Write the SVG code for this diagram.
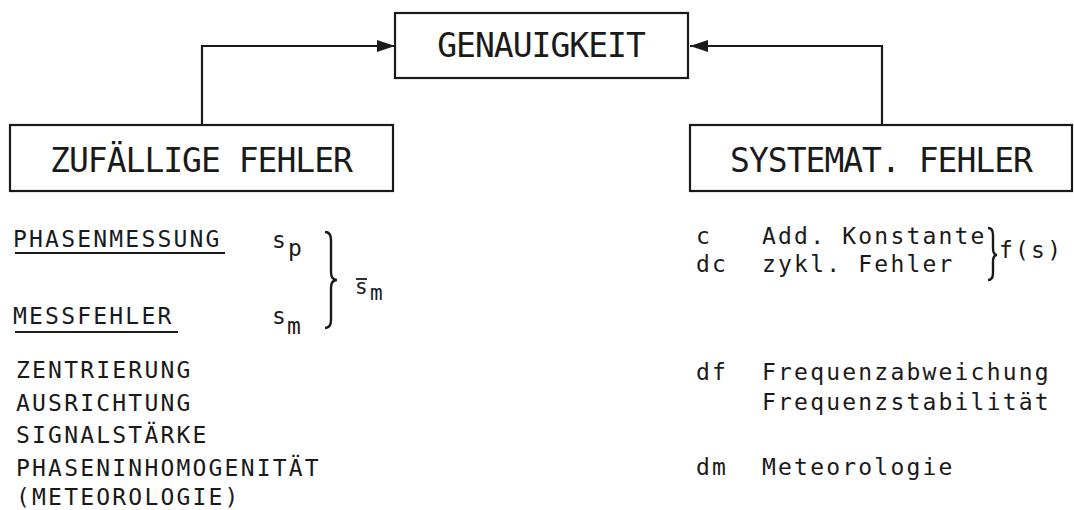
<svg xmlns="http://www.w3.org/2000/svg" width="1074" height="510" viewBox="0 0 1074 510">
<defs>
<style>
.box{fill:#fff;stroke:#1a1a1a;stroke-width:2.2}
.big{font-family:"DejaVu Sans Mono",monospace;font-size:33px;fill:#1a1a1a;text-anchor:middle;letter-spacing:-1px}
.sm{font-family:"DejaVu Sans Mono",monospace;font-size:23px;fill:#1a1a1a;letter-spacing:2.2px}
.xs{font-family:"DejaVu Sans Mono",monospace;font-size:21px;fill:#1a1a1a}
.ln{fill:none;stroke:#1a1a1a;stroke-width:2.2}
.br{fill:none;stroke:#1a1a1a;stroke-width:2.4}
</style>
<marker id="ah" markerWidth="18" markerHeight="12" refX="18" refY="6" orient="auto" markerUnits="userSpaceOnUse">
<path d="M0,0 L18,6 L0,12 Z" fill="#1a1a1a"/>
</marker>
</defs>
<rect width="1074" height="510" fill="#fff"/>
<g id="connectors">
<path class="ln" d="M202,125 L202,46 L395,46" marker-end="url(#ah)"/>
<path class="ln" d="M882,125 L882,46 L690,46" marker-end="url(#ah)"/>
</g>
<g id="genauigkeit">
<rect class="box" x="395" y="13" width="293" height="65"/>
<text class="big" x="541" y="57">GENAUIGKEIT</text>
</g>
<g id="zufaellige">
<rect class="box" x="10" y="125" width="383" height="66"/>
<text class="big" x="201" y="172">ZUFÄLLIGE FEHLER</text>
</g>
<g id="systemat">
<rect class="box" x="690" y="125" width="382" height="66"/>
<text class="big" x="881" y="172">SYSTEMAT. FEHLER</text>
</g>
<g id="left-list">
<text class="sm" x="13" y="247">PHASENMESSUNG</text>
<line class="ln" x1="15" y1="253" x2="225" y2="253"/>
<text class="sm" x="13" y="324">MESSFEHLER</text>
<line class="ln" x1="15" y1="332" x2="178" y2="332"/>
<text class="sm" x="272" y="248">s</text>
<text class="sm" x="288" y="256">p</text>
<text class="sm" x="272" y="324">s</text>
<text class="sm" x="287" y="334">m</text>
<path class="br" d="M325,232 Q331,232 331,240 L331,272 Q331,280 337,280 Q331,280 331,288 L331,320 Q331,328 325,328"/>
<text class="xs" x="355" y="294">s</text>
<line x1="356" y1="279" x2="367" y2="279" stroke="#1a1a1a" stroke-width="1.8"/>
<text class="xs" x="370" y="300">m</text>
<text class="sm" x="16" y="378">ZENTRIERUNG</text>
<text class="sm" x="16" y="411">AUSRICHTUNG</text>
<text class="sm" x="16" y="443">SIGNALSTÄRKE</text>
<text class="sm" x="16" y="476">PHASENINHOMOGENITÄT</text>
<text class="sm" x="16" y="505">(METEOROLOGIE)</text>
</g>
<g id="right-list">
<text class="sm" x="696" y="244">c</text>
<text class="sm" x="762" y="244">Add. Konstante</text>
<text class="sm" x="696" y="272">dc</text>
<text class="sm" x="762" y="272">zykl. Fehler</text>
<path class="br" d="M988,228 Q993,228 993,235 L993,248 Q993,255 997,255 Q993,255 993,262 L993,273 Q993,280 988,280"/>
<text class="sm" x="999" y="258">f(s)</text>
<text class="sm" x="696" y="380">df</text>
<text class="sm" x="762" y="380">Frequenzabweichung</text>
<text class="sm" x="762" y="410">Frequenzstabilität</text>
<text class="sm" x="696" y="475">dm</text>
<text class="sm" x="762" y="475">Meteorologie</text>
</g>
</svg>
